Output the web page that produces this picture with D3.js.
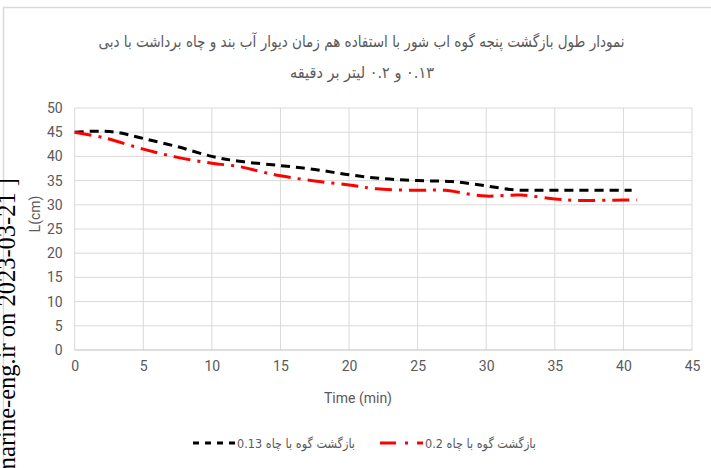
<!DOCTYPE html>
<html><head><meta charset="utf-8">
<script src="https://cdn.jsdelivr.net/npm/d3@7"></script>
<style>body{margin:0;background:#fff}svg{display:block}</style>
</head><body><svg id="c" width="711" height="468"></svg>
<script>
const titleLine1 = "نمودار طول بازگشت پنجه گوه اب شور با استفاده هم زمان دیوار آب بند و چاه برداشت با دبی";
const titleLine2 = "۰.۱۳ و ۰.۲ لیتر بر دقیقه";
const xTicks = [0,5,10,15,20,25,30,35,40,45];
const yTicks = [0,5,10,15,20,25,30,35,40,45,50];
const seriesNames = ["بازگشت گوه با چاه 0.13", "بازگشت گوه با چاه 0.2"];
const time013 = [0,1.5,3,5,7.5,10,12,15,17.5,20,22.5,25,27.5,30,32,33.5,35,40.6];
const len013 = [45,45.2,45,43.7,42,40,39,38.1,37.3,36.2,35.4,35,34.8,33.9,33.1,33,33,33];
const time02 = [0,2.2,5,7.5,10,12,13.5,15,17.5,20,22,25,27,29,30,32.5,35,36.6,40,41];
const len02 = [45,43.8,41.5,39.8,38.6,37.9,36.9,36,34.9,34.1,33.3,33,33,32.1,31.8,32,31.2,30.9,31,31];

const svg = d3.select("#c");
const x = d3.scaleLinear().domain([0,45]).range([74.7,692]);
const y = d3.scaleLinear().domain([0,50]).range([350,108]);
const grey = "#595959";
const axisFont = "Roboto, 'Liberation Sans', sans-serif";
const arFont = "'DejaVu Sans Condensed','DejaVu Sans', sans-serif";

// frame
svg.append("path").attr("d","M3.5,468V7.5H711").attr("fill","none").attr("stroke","#d9d9d9").attr("stroke-width",1.5);

// watermark
svg.append("text").attr("transform","translate(15,178) rotate(-90)")
  .attr("text-anchor","end").attr("font-family","'Liberation Serif', serif").attr("font-size",24.5)
  .attr("fill","#000").text("[ Downloaded from marine-eng.ir on 2023-03-21 ]");

// gridlines
svg.append("g").selectAll("line").data(yTicks.filter(d=>d>0)).join("line")
  .attr("x1",x(0)).attr("x2",x(45)).attr("y1",d=>y(d)).attr("y2",d=>y(d))
  .attr("stroke","#d9d9d9").attr("stroke-width",1);
svg.append("g").selectAll("line").data(xTicks.filter(d=>d>0)).join("line")
  .attr("y1",y(0)).attr("y2",y(50)).attr("x1",d=>x(d)).attr("x2",d=>x(d))
  .attr("stroke","#d9d9d9").attr("stroke-width",1);
svg.append("line").attr("x1",x(0)).attr("x2",x(45)).attr("y1",y(0)).attr("y2",y(0)).attr("stroke","#bfbfbf").attr("stroke-width",1);
svg.append("line").attr("x1",x(0)).attr("x2",x(0)).attr("y1",y(0)).attr("y2",y(50)).attr("stroke","#d9d9d9").attr("stroke-width",1);

// tick labels
const xAxis = d3.axisBottom(x).tickValues(xTicks).tickSize(0).tickPadding(11);
const gx = svg.append("g").attr("transform",`translate(0,${y(0)})`).call(xAxis);
gx.select(".domain").remove();
gx.selectAll("text").attr("fill",grey).attr("font-size",14).attr("font-family",axisFont);
const yAxis = d3.axisLeft(y).tickValues(yTicks).tickSize(0).tickPadding(12);
const gy = svg.append("g").attr("transform",`translate(${x(0)},0)`).call(yAxis);
gy.select(".domain").remove();
gy.selectAll("text").attr("fill",grey).attr("font-size",14).attr("font-family",axisFont);

// axis titles
svg.append("text").attr("x",358).attr("y",403).attr("text-anchor","middle").attr("fill",grey)
  .attr("font-size",14).attr("font-family",axisFont).text("Time (min)");
svg.append("text").attr("transform","translate(40,214) rotate(-90)").attr("text-anchor","middle").attr("fill",grey)
  .attr("font-size",14).attr("font-family",axisFont).text("L(cm)");

// lines
const line = d3.line().x(d=>x(d[0])).y(d=>y(d[1])).curve(d3.curveCatmullRom.alpha(0.5));
svg.append("path").datum(d3.zip(time013,len013)).attr("d",line).attr("fill","none")
  .attr("stroke","#000").attr("stroke-width",3).attr("stroke-dasharray","9,6");
svg.append("path").datum(d3.zip(time02,len02)).attr("d",line).attr("fill","none")
  .attr("stroke","#ff0000").attr("stroke-width",3).attr("stroke-dasharray","17,7,3,7");

// title
function fitText(sel, x0, x1){
  const w = sel.node().getComputedTextLength();
  const cx = (x0+x1)/2, s = (x1-x0)/w;
  sel.attr("x",0).attr("text-anchor","middle").attr("transform",`translate(${cx},0) scale(${s},1)`);
}
const t1 = svg.append("text").attr("y",47).attr("fill",grey).attr("font-size",16)
  .attr("font-family",arFont).attr("direction","rtl").text(titleLine1);
fitText(t1, 98, 625);
const t2 = svg.append("text").attr("y",78).attr("fill",grey).attr("font-size",16)
  .attr("font-family",arFont).attr("direction","rtl").text(titleLine2);
fitText(t2, 290, 434);

// legend
const legend = [
  {x0:193, x1:235, tx0:237, tx1:355, color:"#000", dash:"6,6"},
  {x0:380, x1:423, tx0:425, tx1:536, color:"#ff0000", dash:"16,9,3,9"}
];
legend.forEach((l,i)=>{
  svg.append("line").attr("x1",l.x0).attr("x2",l.x1).attr("y1",443).attr("y2",443)
    .attr("stroke",l.color).attr("stroke-width",3).attr("stroke-dasharray",l.dash);
  const t = svg.append("text").attr("y",448).attr("fill",grey).attr("font-size",13)
    .attr("font-family",arFont).attr("direction","rtl").text(seriesNames[i]);
  fitText(t, l.tx0, l.tx1);
});
</script></body></html>
